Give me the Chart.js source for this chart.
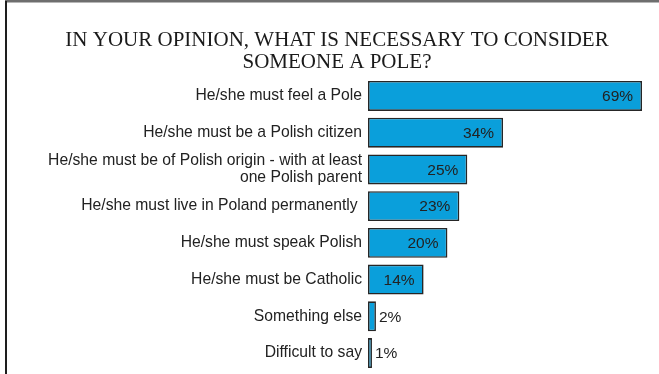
<!DOCTYPE html>
<html>
<head>
<meta charset="utf-8">
<script src="https://cdn.jsdelivr.net/npm/chart.js@4/dist/chart.umd.min.js"></script>
<style>
  html, body { margin: 0; padding: 0; background: #ffffff; }
  #wrap { width: 659px; height: 374px; position: relative; }
</style>
</head>
<body>
<div id="wrap"><canvas id="c" width="659" height="374"></canvas></div>
<script>
// Survey answers (percent of respondents)
const titleLines = ['IN YOUR OPINION, WHAT IS NECESSARY TO CONSIDER', 'SOMEONE A POLE?'];
const categories = [
  'He/she must feel a Pole',
  'He/she must be a Polish citizen',
  ['He/she must be of Polish origin - with at least', 'one Polish parent'],
  'He/she must live in Poland permanently ',
  'He/she must speak Polish',
  'He/she must be Catholic',
  'Something else',
  'Difficult to say'
];
const values = [69, 34, 25, 23, 20, 14, 2, 1];

// Outer frame: grey top rule and dark left rule
const framePlugin = {
  id: 'frame',
  beforeDraw(chart) {
    const ctx = chart.ctx;
    ctx.save();
    ctx.fillStyle = '#ffffff';
    ctx.fillRect(0, 0, chart.width, chart.height);
    ctx.fillStyle = '#6e6e6e';
    ctx.fillRect(5, 0, chart.width - 5, 2.5);
    ctx.fillStyle = '#1e1e1e';
    ctx.fillRect(5, 1, 2, chart.height);
    ctx.restore();
  }
};

// Percent labels: inside the bar end for long bars, beside it for short ones
const valueLabels = {
  id: 'valueLabels',
  afterDatasetsDraw(chart) {
    const ctx = chart.ctx;
    const meta = chart.getDatasetMeta(0);
    ctx.save();
    ctx.font = '15.5px "Liberation Sans", Arial, sans-serif';
    ctx.fillStyle = '#222222';
    ctx.textBaseline = 'middle';
    meta.data.forEach((bar, i) => {
      const v = values[i];
      const txt = v + '%';
      if (v >= 10) {
        ctx.textAlign = 'right';
        ctx.fillText(txt, bar.x - 9, bar.y + 1);
      } else {
        ctx.textAlign = 'left';
        ctx.fillText(txt, bar.x + 3, bar.y + 1);
      }
    });
    ctx.restore();
  }
};

new Chart(document.getElementById('c'), {
  type: 'bar',
  data: {
    labels: categories,
    datasets: [{
      data: values,
      backgroundColor: '#0a9fdb',
      borderColor: '#262626',
      borderWidth: 1.6,
      borderSkipped: false,
      categoryPercentage: 0.815,
      barPercentage: 1.0
    }]
  },
  options: {
    indexAxis: 'y',
    responsive: false,
    animation: false,
    devicePixelRatio: 1,
    layout: { padding: { top: 29, left: 28, right: 13, bottom: 2.6 } },
    plugins: {
      legend: { display: false },
      tooltip: { enabled: false },
      title: {
        display: true,
        text: titleLines,
        color: '#1a1a1a',
        font: { family: '"Liberation Serif", "Times New Roman", serif', size: 21, weight: 'normal', lineHeight: 1.05 },
        padding: { top: 0, bottom: 4.5 }
      }
    },
    scales: {
      x: {
        display: false,
        min: 0,
        max: 70,
        afterFit(scale) { scale.height = 0; }
      },
      y: {
        afterFit(scale) {
          scale.width = 340;
          scale.paddingTop = 0;
          scale.paddingBottom = 0;
        },
        grid: { display: false, drawTicks: false },
        border: { display: false },
        ticks: {
          color: '#222222',
          padding: 6,
          font: { family: '"Liberation Sans", Arial, sans-serif', size: 15.7, lineHeight: 1.05 }
        }
      }
    }
  },
  plugins: [framePlugin, valueLabels]
});
</script>
</body>
</html>
